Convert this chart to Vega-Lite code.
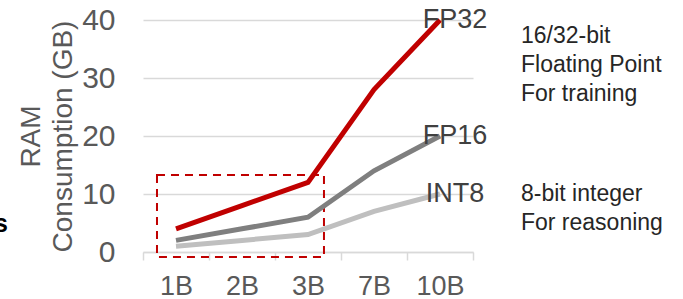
{
  "$schema": "https://vega.github.io/schema/vega-lite/v6.json",
  "width": 330,
  "height": 232,
  "autosize": "none",
  "padding": {"left": 143, "top": 20, "right": 210, "bottom": 47},
  "background": "white",
  "config": {
    "view": {"stroke": null},
    "font": "Liberation Sans",
    "axis": {"labelFont": "Liberation Sans", "titleFont": "Liberation Sans"}
  },
  "datasets": {
    "series": [
      {"size": "1B", "prec": "FP32", "value": 4},
      {"size": "2B", "prec": "FP32", "value": 8},
      {"size": "3B", "prec": "FP32", "value": 12},
      {"size": "7B", "prec": "FP32", "value": 28},
      {"size": "10B", "prec": "FP32", "value": 40},
      {"size": "1B", "prec": "FP16", "value": 2},
      {"size": "2B", "prec": "FP16", "value": 4},
      {"size": "3B", "prec": "FP16", "value": 6},
      {"size": "7B", "prec": "FP16", "value": 14},
      {"size": "10B", "prec": "FP16", "value": 20},
      {"size": "1B", "prec": "INT8", "value": 1},
      {"size": "2B", "prec": "INT8", "value": 2},
      {"size": "3B", "prec": "INT8", "value": 3},
      {"size": "7B", "prec": "INT8", "value": 7},
      {"size": "10B", "prec": "INT8", "value": 10}
    ],
    "box": [{"x1": 0.212, "x2": 2.742, "y1": -0.86, "y2": 13.28}],
    "notes": [
      {"pos": 5.727, "v": 36.0, "text": "16/32-bit\nFloating Point\nFor training"},
      {"pos": 5.727, "v": 8.8, "text": "8-bit integer\nFor reasoning"}
    ],
    "frag": [{"pos": -2.045, "v": 4.8, "text": "s"}]
  },
  "resolve": {"scale": {"x": "independent"}},
  "layer": [
    {
      "data": {"name": "box"},
      "mark": {"type": "rect", "fill": null, "fillOpacity": 0, "stroke": "#c00000", "strokeWidth": 2, "strokeDash": [8, 6]},
      "encoding": {
        "x": {"field": "x1", "type": "quantitative", "scale": {"domain": [0, 5], "nice": false, "zero": false}, "axis": null},
        "x2": {"field": "x2"},
        "y": {"field": "y1", "type": "quantitative"},
        "y2": {"field": "y2"}
      }
    },
    {
      "data": {"name": "series"},
      "mark": {"type": "line", "strokeWidth": 5},
      "encoding": {
        "x": {
          "field": "size", "type": "ordinal", "bandPosition": 0.5,
          "sort": ["1B", "2B", "3B", "7B", "10B"],
          "scale": {"type": "band", "domain": ["1B", "2B", "3B", "7B", "10B"], "paddingInner": 0, "paddingOuter": 0},
          "axis": {
            "title": null, "labelAngle": 0, "labelFontSize": 27, "labelColor": "#595959",
            "domainColor": "#d9d9d9", "domainWidth": 1.5, "tickColor": "#d9d9d9", "tickWidth": 1.5,
            "tickSize": 8, "tickBand": "extent", "labelPadding": 13, "grid": false
          }
        },
        "y": {
          "field": "value", "type": "quantitative",
          "scale": {"domain": [0, 40], "nice": false},
          "axis": {
            "values": [0, 10, 20, 30, 40], "grid": true, "gridColor": "#d9d9d9", "gridWidth": 1.5,
            "domain": false, "ticks": false, "tickSize": 0, "labelFontSize": 30, "labelColor": "#595959",
            "labelPadding": 28,
            "title": ["RAM", "Consumption (GB)"], "titleFontSize": 28, "titleFontWeight": "normal",
            "titleColor": "#595959", "titlePadding": 4, "titleLineHeight": 32
          }
        },
        "color": {
          "field": "prec", "type": "nominal",
          "scale": {"domain": ["FP32", "FP16", "INT8"], "range": ["#c00000", "#7f7f7f", "#bfbfbf"]},
          "legend": null
        }
      }
    },
    {
      "data": {"name": "series"},
      "transform": [{"filter": "datum.size === '10B'"}],
      "mark": {"type": "text", "fontSize": 27, "color": "#404040", "align": "center", "baseline": "middle", "dx": 15},
      "encoding": {
        "x": {
          "field": "size", "type": "ordinal", "bandPosition": 0.5,
          "scale": {"type": "band", "domain": ["1B", "2B", "3B", "7B", "10B"], "paddingInner": 0, "paddingOuter": 0},
          "axis": null
        },
        "y": {"field": "value", "type": "quantitative"},
        "text": {"field": "prec"}
      }
    },
    {
      "data": {"name": "notes"},
      "mark": {"type": "text", "fontSize": 23, "color": "#262626", "align": "left", "baseline": "alphabetic", "lineBreak": "\n", "lineHeight": 29},
      "encoding": {
        "x": {"field": "pos", "type": "quantitative", "scale": {"domain": [0, 5], "nice": false, "zero": false}, "axis": null},
        "y": {"field": "v", "type": "quantitative"},
        "text": {"field": "text"}
      }
    },
    {
      "data": {"name": "frag"},
      "mark": {"type": "text", "fontSize": 25, "fontWeight": "bold", "color": "#000000", "align": "right", "baseline": "middle"},
      "encoding": {
        "x": {"field": "pos", "type": "quantitative", "scale": {"domain": [0, 5], "nice": false, "zero": false}, "axis": null},
        "y": {"field": "v", "type": "quantitative"},
        "text": {"field": "text"}
      }
    }
  ]
}
